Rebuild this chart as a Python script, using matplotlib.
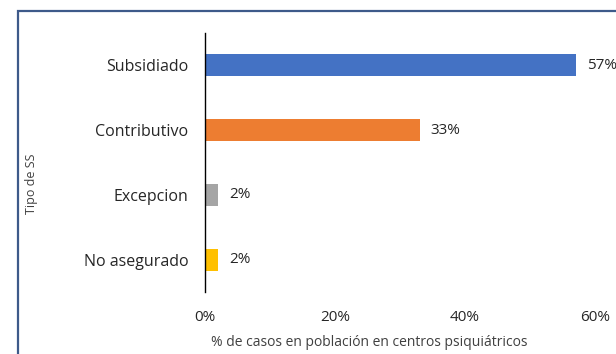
import matplotlib
matplotlib.use("Agg")
import matplotlib.pyplot as plt
from matplotlib.patches import Rectangle

categories = ["Subsidiado", "Contributivo", "Excepcion", "No asegurado"]
values = [0.57, 0.33, 0.02, 0.02]
value_labels = ["57%", "33%", "2%", "2%"]
colors = ["#4472C4", "#ED7D31", "#A5A5A5", "#FFC000"]
xticks = [0.0, 0.2, 0.4, 0.6]
xtick_labels = ["0%", "20%", "40%", "60%"]

plt.rcParams["font.family"] = ["Open Sans", "DejaVu Sans"]

W, H = 616, 354
fig = plt.figure(figsize=(W / 100, H / 100), dpi=100)
fig.patch.set_facecolor("white")

# chart frame (runs off the right and bottom edges)
fig.patches.append(Rectangle((18 / W, -0.1), 1.0, 1 - 11 / H + 0.1,
                             transform=fig.transFigure, fill=False,
                             edgecolor="#3E5A8A", linewidth=1.6))

left, right, top, bottom = 205, 595, 33, 292
ax = fig.add_axes([left / W, 1 - bottom / H, (right - left) / W, (bottom - top) / H])

y = list(range(len(categories)))
ax.barh(y, values, height=0.34, color=colors, zorder=2)
ax.set_ylim(len(categories) - 0.5, -0.5)
ax.set_xlim(0, 0.6)

for yi, v, lab in zip(y, values, value_labels):
    ax.annotate(lab, (v, yi), xytext=(8, 0), textcoords="offset points",
                ha="left", va="center", fontsize=11, color="#262626",
                annotation_clip=False)

ax.set_yticks(y)
ax.set_yticklabels(categories, fontsize=11.5, color="#262626")
ax.set_xticks(xticks)
ax.set_xticklabels(xtick_labels, fontsize=11, color="#262626")
ax.tick_params(axis="y", length=0, pad=12)
ax.tick_params(axis="x", length=0, pad=13)

for s in ["top", "right", "bottom"]:
    ax.spines[s].set_visible(False)
ax.spines["left"].set_color("black")
ax.spines["left"].set_linewidth(1.0)
ax.spines["left"].set_zorder(3)

fig.text(369 / W, 1 - 343 / H, "% de casos en población en centros psiquiátricos",
         ha="center", va="center", fontsize=10, color="#404040")
fig.text(32 / W, 1 - 184 / H, "Tipo de SS", rotation=90,
         ha="center", va="center", fontsize=9, color="#404040")

fig.savefig("out.png", dpi=100)
